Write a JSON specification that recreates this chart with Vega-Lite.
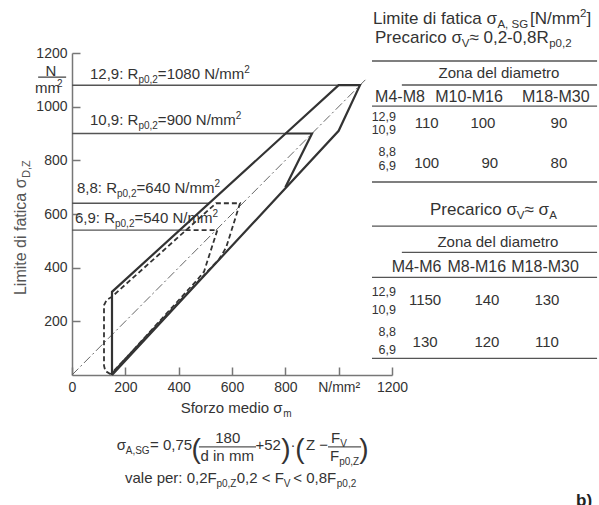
{
  "$schema": "https://vega.github.io/schema/vega-lite/v6.json",
  "width": 320,
  "height": 322,
  "autosize": "none",
  "padding": {"left": 72, "top": 53, "right": 207, "bottom": 130},
  "background": "white",
  "config": {"view": {"stroke": null}, "text": {"font": "Liberation Sans", "color": "#333"}},
  "datasets": {
    "solid": [
      {"g": "a", "o": 1, "x": 150, "y": 0},
      {"g": "a", "o": 2, "x": 150, "y": 310},
      {"g": "a", "o": 3, "x": 1000, "y": 1080},
      {"g": "a", "o": 4, "x": 1080, "y": 1080},
      {"g": "a", "o": 5, "x": 1000, "y": 910},
      {"g": "a", "o": 6, "x": 150, "y": 0},
      {"g": "b", "o": 1, "x": 800, "y": 900},
      {"g": "b", "o": 2, "x": 900, "y": 900},
      {"g": "b", "o": 3, "x": 800, "y": 700}
    ],
    "dashed": [
      {"g": "c", "o": 1, "x": 145, "y": 3},
      {"g": "c", "o": 2, "x": 125, "y": 15},
      {"g": "c", "o": 3, "x": 120, "y": 35},
      {"g": "c", "o": 4, "x": 120, "y": 260},
      {"g": "c", "o": 5, "x": 130, "y": 280},
      {"g": "c", "o": 6, "x": 150, "y": 292},
      {"g": "c", "o": 7, "x": 540, "y": 640},
      {"g": "c", "o": 8, "x": 630, "y": 640},
      {"g": "c", "o": 9, "x": 578, "y": 475},
      {"g": "c", "o": 10, "x": 552, "y": 432},
      {"g": "c", "o": 11, "x": 145, "y": 3},
      {"g": "d", "o": 1, "x": 426, "y": 540},
      {"g": "d", "o": 2, "x": 545, "y": 540},
      {"g": "d", "o": 3, "x": 495, "y": 385},
      {"g": "d", "o": 4, "x": 470, "y": 355},
      {"g": "d", "o": 5, "x": 152, "y": 8}
    ],
    "diag": [
      {"g": "e", "o": 1, "x": 0, "y": 0},
      {"g": "e", "o": 2, "x": 1100, "y": 1100}
    ],
    "rules": [
      {"x": 0, "x2": 1000, "y": 1080},
      {"x": 0, "x2": 800, "y": 900},
      {"x": 0, "x2": 517, "y": 640},
      {"x": 0, "x2": 430, "y": 540},
      {"x": 1125, "x2": 1969, "y": 1170},
      {"x": 1237, "x2": 1969, "y": 1081},
      {"x": 1125, "x2": 1969, "y": 1002},
      {"x": 1125, "x2": 1969, "y": 719},
      {"x": 1125, "x2": 1969, "y": 555},
      {"x": 1237, "x2": 1969, "y": 457},
      {"x": 1125, "x2": 1969, "y": 364},
      {"x": 1125, "x2": 1969, "y": 62},
      {"x": -127, "x2": -22, "y": 1110},
      {"x": 476, "x2": 690, "y": -268},
      {"x": 960, "x2": 1084, "y": -268}
    ],
    "t15L": [
      {"t": "12,9: R", "x": 67.5, "y": 1103},
      {"t": "=1080 N/mm", "x": 322, "y": 1103},
      {"t": "10,9: R", "x": 67.5, "y": 932},
      {"t": "=900 N/mm", "x": 322, "y": 932},
      {"t": "8,8: R", "x": 18.75, "y": 678},
      {"t": "=640 N/mm", "x": 242, "y": 678},
      {"t": "6,9: R", "x": 11.25, "y": 566},
      {"t": "=540 N/mm", "x": 234.4, "y": 566},
      {"t": "Sforzo medio σ", "x": 407.6, "y": -141.6},
      {"t": "σ", "x": 167.6, "y": -279.5},
      {"t": "= 0,75", "x": 292.5, "y": -279.5},
      {"t": "+52", "x": 688, "y": -279.5},
      {"t": "Z −", "x": 877.5, "y": -279.5},
      {"t": "F", "x": 971.25, "y": -253.4},
      {"t": "F", "x": 967.5, "y": -320.5},
      {"t": "vale per: 0,2F", "x": 198.75, "y": -402.5},
      {"t": "0,2 < F", "x": 617.6, "y": -402.5},
      {"t": "< 0,8F", "x": 830, "y": -402.5}
    ],
    "t15C": [
      {"t": "N", "x": -79, "y": 1116},
      {"t": "mm", "x": -92, "y": 1051},
      {"t": "Zona del diametro", "x": 1601, "y": 1107},
      {"t": "110", "x": 1330, "y": 919},
      {"t": "100", "x": 1541, "y": 919},
      {"t": "90", "x": 1826, "y": 919},
      {"t": "100", "x": 1330, "y": 770},
      {"t": "90", "x": 1567, "y": 770},
      {"t": "80", "x": 1826, "y": 770},
      {"t": "Zona del diametro", "x": 1597, "y": 477},
      {"t": "1150", "x": 1324, "y": 261},
      {"t": "140", "x": 1556, "y": 261},
      {"t": "130", "x": 1781, "y": 261},
      {"t": "130", "x": 1324, "y": 105.5},
      {"t": "120", "x": 1556, "y": 105.5},
      {"t": "110", "x": 1781, "y": 105.5},
      {"t": "180", "x": 584, "y": -253.4},
      {"t": "d in mm", "x": 582, "y": -320.5},
      {"t": "·", "x": 828.75, "y": -279.5}
    ],
    "t17L": [
      {"t": "Limite di fatica σ", "x": 1128.75, "y": 1308},
      {"t": "[N/mm", "x": 1717.5, "y": 1308},
      {"t": "]", "x": 1929, "y": 1308},
      {"t": "Precarico σ", "x": 1136.25, "y": 1237},
      {"t": "≈ 0,2-0,8R", "x": 1490.25, "y": 1237},
      {"t": "Precarico σ", "x": 1342.5, "y": 596},
      {"t": "≈ σ", "x": 1696.5, "y": 596}
    ],
    "t17C": [
      {"t": "M4-M8", "x": 1230, "y": 1018.5},
      {"t": "M10-M16", "x": 1489, "y": 1018.5},
      {"t": "M18-M30", "x": 1814, "y": 1018.5},
      {"t": "M4-M6", "x": 1292, "y": 385},
      {"t": "M8-M16", "x": 1518, "y": 385},
      {"t": "M18-M30", "x": 1774, "y": 385}
    ],
    "t13R": [
      {"t": "12,9", "x": 1215, "y": 946},
      {"t": "10,9", "x": 1215, "y": 899},
      {"t": "8,8", "x": 1215, "y": 815},
      {"t": "6,9", "x": 1215, "y": 763},
      {"t": "12,9", "x": 1215, "y": 293},
      {"t": "10,9", "x": 1215, "y": 229},
      {"t": "8,8", "x": 1215, "y": 144},
      {"t": "6,9", "x": 1215, "y": 80}
    ],
    "s10": [
      {"t": "p0,2", "x": 249, "y": 1103},
      {"t": "p0,2", "x": 249, "y": 932},
      {"t": "p0,2", "x": 168.75, "y": 678},
      {"t": "p0,2", "x": 161.25, "y": 566},
      {"t": "m", "x": 792, "y": -141.6},
      {"t": "A,SG", "x": 201.4, "y": -279.5},
      {"t": "V", "x": 1005.75, "y": -253.4},
      {"t": "p0,Z", "x": 1002, "y": -320.5},
      {"t": "p0,Z", "x": 541.5, "y": -402.5},
      {"t": "V", "x": 794.25, "y": -402.5},
      {"t": "p0,2", "x": 993, "y": -402.5}
    ],
    "s11": [
      {"t": "A, SG", "x": 1595.25, "y": 1308},
      {"t": "V", "x": 1461.4, "y": 1237},
      {"t": "p0,2", "x": 1789.5, "y": 1237},
      {"t": "V", "x": 1667.6, "y": 596},
      {"t": "A", "x": 1789.9, "y": 596}
    ],
    "p10": [
      {"t": "2", "x": 645.75, "y": 1103},
      {"t": "2", "x": 614, "y": 932},
      {"t": "2", "x": 534, "y": 678},
      {"t": "2", "x": 526.5, "y": 566},
      {"t": "2", "x": -56, "y": 1051}
    ],
    "p11": [
      {"t": "2", "x": 1905, "y": 1308}
    ],
    "parens": [
      {"t": "(", "x": 466, "y": -309},
      {"t": ")", "x": 802, "y": -309},
      {"t": "(", "x": 855, "y": -309},
      {"t": ")", "x": 1095, "y": -309}
    ],
    "ytitle": [
      {"t": "Limite di fatica σ", "x": -172.5, "y": 298}
    ],
    "ytitleSub": [
      {"t": "D,Z", "x": -157.5, "y": 734}
    ],
    "bold": [
      {"t": "b)", "x": 1890, "y": -488}
    ]
  },
  "encoding": {
    "x": {"field": "x", "type": "quantitative", "scale": {"domain": [0, 1200], "nice": false, "zero": false},
      "axis": {"title": null, "values": [0, 200, 400, 600, 800, 1000, 1200], "format": "d", "labelExpr": "datum.value == 1000 ? 'N/mm²' : datum.label",
        "grid": false, "domainColor": "#777", "domainWidth": 1.5, "tickColor": "#777", "tickWidth": 1.5, "tickSize": -8, "labelPadding": 13,
        "labelFont": "Liberation Sans", "labelFontSize": 14, "labelColor": "#333", "labelFlush": false, "labelOverlap": false}},
    "y": {"field": "y", "type": "quantitative", "scale": {"domain": [0, 1200], "nice": false, "zero": false},
      "axis": {"title": null, "values": [200, 400, 600, 800, 1000, 1200], "format": "d",
        "grid": false, "domainColor": "#777", "domainWidth": 1.5, "tickColor": "#777", "tickWidth": 1.5, "tickSize": -8, "labelPadding": 13,
        "labelFont": "Liberation Sans", "labelFontSize": 14, "labelColor": "#333", "labelFlush": false, "labelOverlap": false}}
  },
  "layer": [
    {"data": {"name": "rules"}, "mark": {"type": "rule", "color": "#555", "strokeWidth": 1.4, "clip": false},
      "encoding": {"x2": {"field": "x2"}}},
    {"data": {"name": "diag"}, "mark": {"type": "line", "color": "#666", "strokeWidth": 1, "strokeDash": [9, 3, 2, 3]},
      "encoding": {"detail": {"field": "g"}, "order": {"field": "o"}}},
    {"data": {"name": "dashed"}, "mark": {"type": "line", "color": "#333", "strokeWidth": 1.8, "strokeDash": [5, 3]},
      "encoding": {"detail": {"field": "g"}, "order": {"field": "o"}}},
    {"data": {"name": "solid"}, "mark": {"type": "line", "color": "#333", "strokeWidth": 2.2, "strokeJoin": "miter"},
      "encoding": {"detail": {"field": "g"}, "order": {"field": "o"}}},
    {"data": {"name": "t15L"}, "mark": {"type": "text", "fontSize": 15, "align": "left", "baseline": "alphabetic"},
      "encoding": {"text": {"field": "t"}}},
    {"data": {"name": "t15C"}, "mark": {"type": "text", "fontSize": 15, "align": "center", "baseline": "alphabetic"},
      "encoding": {"text": {"field": "t"}}},
    {"data": {"name": "t17L"}, "mark": {"type": "text", "fontSize": 17, "align": "left", "baseline": "alphabetic"},
      "encoding": {"text": {"field": "t"}}},
    {"data": {"name": "t17C"}, "mark": {"type": "text", "fontSize": 16, "align": "center", "baseline": "alphabetic"},
      "encoding": {"text": {"field": "t"}}},
    {"data": {"name": "t13R"}, "mark": {"type": "text", "fontSize": 12.5, "align": "right", "baseline": "alphabetic"},
      "encoding": {"text": {"field": "t"}}},
    {"data": {"name": "s10"}, "mark": {"type": "text", "fontSize": 10, "align": "left", "baseline": "alphabetic", "dy": 4},
      "encoding": {"text": {"field": "t"}}},
    {"data": {"name": "s11"}, "mark": {"type": "text", "fontSize": 11.5, "align": "left", "baseline": "alphabetic", "dy": 4},
      "encoding": {"text": {"field": "t"}}},
    {"data": {"name": "p10"}, "mark": {"type": "text", "fontSize": 10, "align": "left", "baseline": "alphabetic", "dy": -6},
      "encoding": {"text": {"field": "t"}}},
    {"data": {"name": "p11"}, "mark": {"type": "text", "fontSize": 11.5, "align": "left", "baseline": "alphabetic", "dy": -7},
      "encoding": {"text": {"field": "t"}}},
    {"data": {"name": "parens"}, "mark": {"type": "text", "fontSize": 28, "align": "center", "baseline": "alphabetic"},
      "encoding": {"text": {"field": "t"}}},
    {"data": {"name": "ytitle"}, "mark": {"type": "text", "fontSize": 16, "angle": 270, "align": "left", "baseline": "alphabetic", "color": "#555"},
      "encoding": {"text": {"field": "t"}}},
    {"data": {"name": "ytitleSub"}, "mark": {"type": "text", "fontSize": 11, "angle": 270, "align": "left", "baseline": "alphabetic", "color": "#555"},
      "encoding": {"text": {"field": "t"}}},
    {"data": {"name": "bold"}, "mark": {"type": "text", "fontSize": 17, "fontWeight": "bold", "align": "left", "baseline": "alphabetic", "color": "#222"},
      "encoding": {"text": {"field": "t"}}}
  ]
}
